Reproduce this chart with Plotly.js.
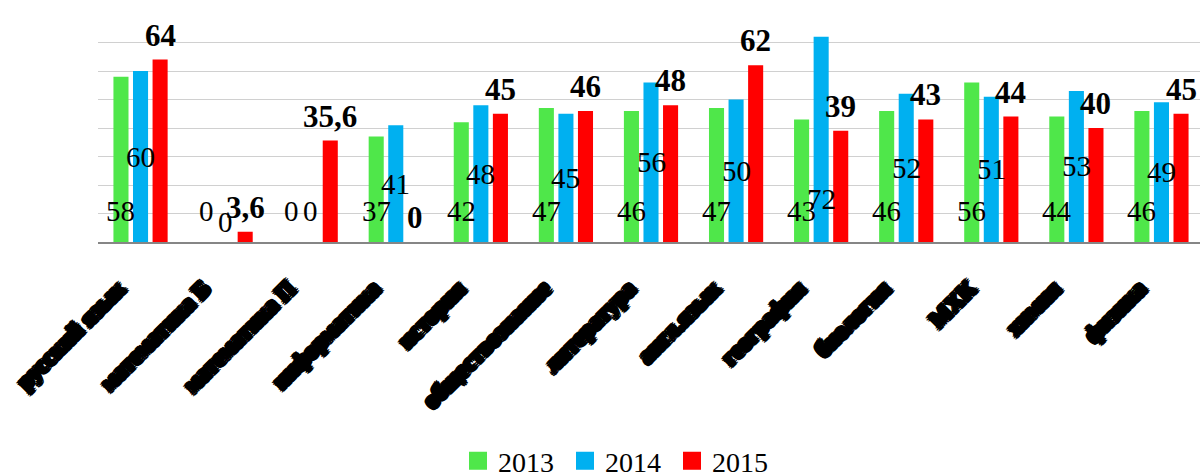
<!DOCTYPE html>
<html>
<head>
<meta charset="utf-8">
<script src="https://cdn.plot.ly/plotly-3.0.1.min.js"></script>
<style>
  html, body { margin: 0; padding: 0; overflow: hidden; background: #fff; }
  #chart { width: 1205px; height: 474px; }
</style>
</head>
<body>
<div id="chart"></div>
<script>
// ---- data ----
const categories = ["русский язык", "математика Б", "математика П", "информатика", "история",
  "обществознание", "литература", "англ.язык", "география", "биология", "МХК", "химия", "физика"];
const years = ["2013", "2014", "2015"];
const v2013 = [58, 0, 0, 37, 42, 47, 46, 47, 43, 46, 56, 44, 46];
const v2014 = [60, 0, 0, 41, 48, 45, 56, 50, 72, 52, 51, 53, 49];
const v2015 = [64, 3.6, 35.6, 0, 45, 46, 48, 62, 39, 43, 44, 40, 45];

// ---- styling ----
const colors = ["#4FE74A", "#00B0F0", "#FF0000"];
const bargap = 0.31, bargroupgap = 0.23;
const slot = (1 - bargap) / 3;
const serif = "Liberation Serif, Times New Roman, serif";
const fmt = v => String(v).replace(".", ",");

const series = [v2013, v2014, v2015];
const traces = series.map((vals, k) => ({
  type: "bar", name: years[k], x: categories, y: vals,
  marker: { color: colors[k] }, showlegend: false, hoverinfo: "skip"
}));
// legend entries (larger squares)
years.forEach((yr, k) => traces.push({
  type: "scatter", mode: "markers", name: yr, x: [categories[0]], y: [null],
  marker: { symbol: "square", size: 16, color: colors[k], line: { color: colors[k], width: 2 } },
  hoverinfo: "skip"
}));

const annotations = [];
// manual lift of one label (as in reference)
const blueLift = { "география": 15 };
categories.forEach((c, i) => {
  annotations.push({ x: i - slot, y: 0, xref: "x", yref: "y", text: fmt(v2013[i]), showarrow: false,
    yanchor: "middle", yshift: 31, font: { family: serif, size: 29, color: "#000" } });
  const vb = v2014[i];
  let yb = vb / 2, ys = 0;
  if (vb === 0) { yb = 0; ys = (i === 1) ? 20 : 31; }
  if (blueLift[c] !== undefined) { yb = blueLift[c]; }
  annotations.push({ x: i, y: yb, xref: "x", yref: "y", text: fmt(vb), showarrow: false,
    yanchor: "middle", yshift: ys, font: { family: serif, size: 29, color: "#000" } });
  annotations.push({ x: i + slot, y: v2015[i], xref: "x", yref: "y", text: "<b>" + fmt(v2015[i]) + "</b>",
    showarrow: false, yanchor: "bottom", yshift: 5, font: { family: serif, size: 31, color: "#000" } });
});

const sh = [];
[[2.5,0],[-2.5,0],[0,2.5],[0,-2.5],[2,2],[-2,-2],[2,-2],[-2,2],[1.5,0],[-1.5,0],[0,1.5],[0,-1.5]]
  .forEach(p => sh.push(p[0] + "px " + p[1] + "px 0 #000"));

const layout = {
  width: 1205, height: 474,
  margin: { l: 98, r: 1, t: 14, b: 232 },
  paper_bgcolor: "#fff", plot_bgcolor: "#fff",
  barmode: "group", bargap: bargap, bargroupgap: bargroupgap,
  showlegend: true,
  legend: {
    orientation: "h", xref: "container", yref: "container",
    x: 458 / 1205, xanchor: "left", y: 13 / 474, yanchor: "middle",
    entrywidth: 62, entrywidthmode: "pixels",
    font: { family: serif, size: 28, color: "#000" }, itemsizing: "trace"
  },
  xaxis: {
    type: "category", range: [-0.5, 12.5], autorange: false,
    showgrid: false, showline: true, linecolor: "#868686", linewidth: 2,
    ticks: "", tickangle: -45, ticklabelstandoff: 22, ticklabelshift: -22,
    tickfont: { family: serif, size: 23, color: "#000", weight: "bold", shadow: sh.join(", ") }
  },
  yaxis: {
    range: [0, 80], autorange: false, dtick: 10, showgrid: true, gridcolor: "#D0D0D0", gridwidth: 1,
    zeroline: false, showticklabels: false, ticks: ""
  },
  annotations: annotations,
  hovermode: false
};

Plotly.newPlot("chart", traces, layout, { displayModeBar: false, staticPlot: true });
</script>
</body>
</html>
